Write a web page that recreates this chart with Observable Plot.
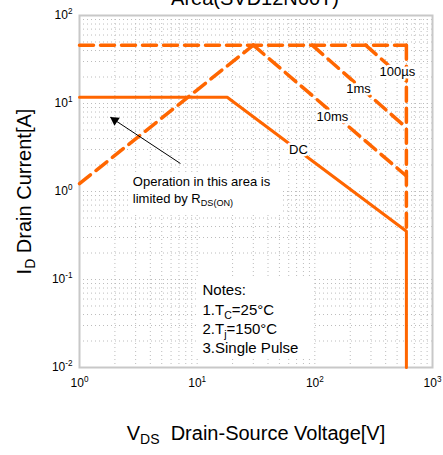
<!DOCTYPE html>
<html><head><meta charset="utf-8">
<script src="https://cdn.jsdelivr.net/npm/d3@7"></script>
<script src="https://cdn.jsdelivr.net/npm/@observablehq/plot@0.6"></script>
<style>
body{margin:0;background:#fff;}
#wrap{position:relative;width:443px;height:455px;overflow:hidden;font-family:"Liberation Sans",Arial,sans-serif;}
#title{position:absolute;left:0;width:510px;text-align:center;top:-12px;font-size:20px;line-height:20px;z-index:2;color:#000;}
</style></head><body>
<div id="wrap"><div id="title">Area(SVD12N60T)</div></div>
<script>
// ---- data (V in volts, I in amperes) ----
const limitV = [1, 600];        const limitI = [46, 46];
const rdsV   = [1, 30];         const rdsI   = [1.23, 46];
const ms10V  = [30, 600];       const ms10I  = [46, 1.5];
const ms1V   = [95, 600];       const ms1I   = [46, 5.3];
const us100V = [270, 600];      const us100I = [46, 18];
const vmaxV  = [600, 600];      const vmaxI  = [46, 0.354];
const dcV    = [1, 18, 600, 600]; const dcI = [11.8, 11.8, 0.354, 0.01];

const xTicks = [1, 10, 100, 1000];
const yTicks = [0.01, 0.1, 1, 10, 100];

const curveLabels = ["100µs", "1ms", "10ms", "DC"];
const curveLabelV = [503, 235, 141, 72.6];
const curveLabelI = [23.2, 14.8, 7.0, 3.0];

const opLines = ["Operation in this area is", "limited by R_{DS(ON)}"];
const opV = [2.84, 2.84];
const opI = [1.28, 0.832];

const notes = ["Notes:", "1.T_{C}=25°C", "2.T_{j}=150°C", "3.Single Pulse"];
const notesV = [11.1, 11.1, 11.1, 11.1];
const notesI = [0.075, 0.0445, 0.027, 0.0165];

const arrowFrom = [7.21, 2.08];
const arrowTo = [1.83, 6.98];

const boxes = [
  {x1: 2.61, x2: 54, y1: 0.577, y2: 1.64},
  {x1: 9.86, x2: 99.3, y1: 0.013, y2: 0.1026}
];

// ---- build ----
const orange = "#ff6600";
const toRows = (V, I) => V.map((v, k) => ({v, i: I[k]}));
const dashed = (V, I) => Plot.line(toRows(V, I), {x: "v", y: "i", stroke: orange, strokeWidth: 3.5, strokeDasharray: "14,7"});
const solid = (V, I) => Plot.line(toRows(V, I), {x: "v", y: "i", stroke: orange, strokeWidth: 3});

const gridX = d3.range(0, 3).flatMap(e => d3.range(1, 10).map(k => k * 10 ** e));
const gridY = d3.range(-2, 2).flatMap(e => d3.range(1, 10).map(k => k * 10 ** e));
const pow = d => `10^{${Math.round(Math.log10(d))}}`;

const lbl = curveLabels.map((t, k) => ({t, v: curveLabelV[k], i: curveLabelI[k]}));
const ops = opLines.map((t, k) => ({t, v: opV[k], i: opI[k]}));
const nts = notes.map((t, k) => ({t, v: notesV[k], i: notesI[k]}));
const arrow = [{x1: arrowFrom[0], y1: arrowFrom[1], x2: arrowTo[0], y2: arrowTo[1]}];

const chart = Plot.plot({
  width: 443, height: 455,
  marginLeft: 79, marginRight: 11, marginTop: 15, marginBottom: 88,
  style: {fontFamily: "Liberation Sans, Arial, sans-serif", fontSize: "12px", background: "transparent", color: "#000", overflow: "visible"},
  x: {type: "log", domain: [1, 1000], ticks: xTicks, tickFormat: pow, tickSize: 0, tickPadding: 11, label: null},
  y: {type: "log", domain: [0.01, 100], ticks: yTicks, tickFormat: pow, tickSize: 0, tickPadding: 7, label: null},
  marks: [
    Plot.ruleX(gridX, {stroke: "#bcbcbc", strokeWidth: 1, strokeDasharray: "1,3"}),
    Plot.ruleY(gridY, {stroke: "#bcbcbc", strokeWidth: 1, strokeDasharray: "1,3"}),
    Plot.rect(boxes, {x1: "x1", x2: "x2", y1: "y1", y2: "y2", fill: "white"}),
    Plot.frame({stroke: "#c8c8c8", strokeWidth: 2}),
    dashed(limitV, limitI),
    dashed(rdsV, rdsI),
    dashed(ms10V, ms10I),
    dashed(ms1V, ms1I),
    dashed(us100V, us100I),
    dashed(vmaxV, vmaxI),
    solid(dcV, dcI),
    Plot.link(arrow, {x1: "x1", y1: "y1", x2: "x2", y2: "y2", stroke: "black", strokeWidth: 1}),
    Plot.dot(arrow, {x: "x2", y: "y2", symbol: "triangle", r: 3.6, fill: "black", stroke: "none", rotate: -56.5, dx: 4.4, dy: 2.9}),
    Plot.text(lbl, {x: "v", y: "i", text: "t", fontSize: 13, fill: "white", stroke: "white", strokeWidth: 5}),
    Plot.text(lbl, {x: "v", y: "i", text: "t", fontSize: 13, fill: "black"}),
    Plot.text(ops, {x: "v", y: "i", text: "t", fontSize: 13, fill: "black", textAnchor: "start"}),
    Plot.text(nts, {x: "v", y: "i", text: "t", fontSize: 15, fill: "black", textAnchor: "start"}),
    Plot.text([0], {frameAnchor: "left", text: () => "I_{D} Drain Current[A]", rotate: -90, dx: -55, fontSize: 20, textAnchor: "middle", fill: "black"}),
    Plot.text([0], {frameAnchor: "bottom", text: () => "V_{DS}\u00a0 Drain-Source Voltage[V]", dy: 72, fontSize: 20, textAnchor: "middle", fill: "black"})
  ]
});
document.getElementById("wrap").appendChild(chart);

// rich text: _{sub} and ^{sup}
function rich(el) {
  const s = el.textContent;
  if (!/[_^]\{/.test(s)) return;
  const fs = parseFloat(getComputedStyle(el).fontSize) || 12;
  el.textContent = "";
  const parts = s.match(/_\{[^}]*\}|\^\{[^}]*\}|[^_^]+/g);
  let shift = 0;
  for (const p of parts) {
    const ts = document.createElementNS("http://www.w3.org/2000/svg", "tspan");
    let target = 0, txt = p, size = fs;
    if (p.startsWith("_{")) { target = 0.22 * fs; txt = p.slice(2, -1); size = 0.7 * fs; }
    else if (p.startsWith("^{")) { target = -0.42 * fs; txt = p.slice(2, -1); size = 0.68 * fs; }
    ts.setAttribute("dy", (target - shift).toFixed(2));
    ts.setAttribute("font-size", size.toFixed(2));
    ts.textContent = txt;
    el.appendChild(ts);
    shift = target;
  }
}
chart.querySelectorAll("text").forEach(rich);
</script>
</body></html>
